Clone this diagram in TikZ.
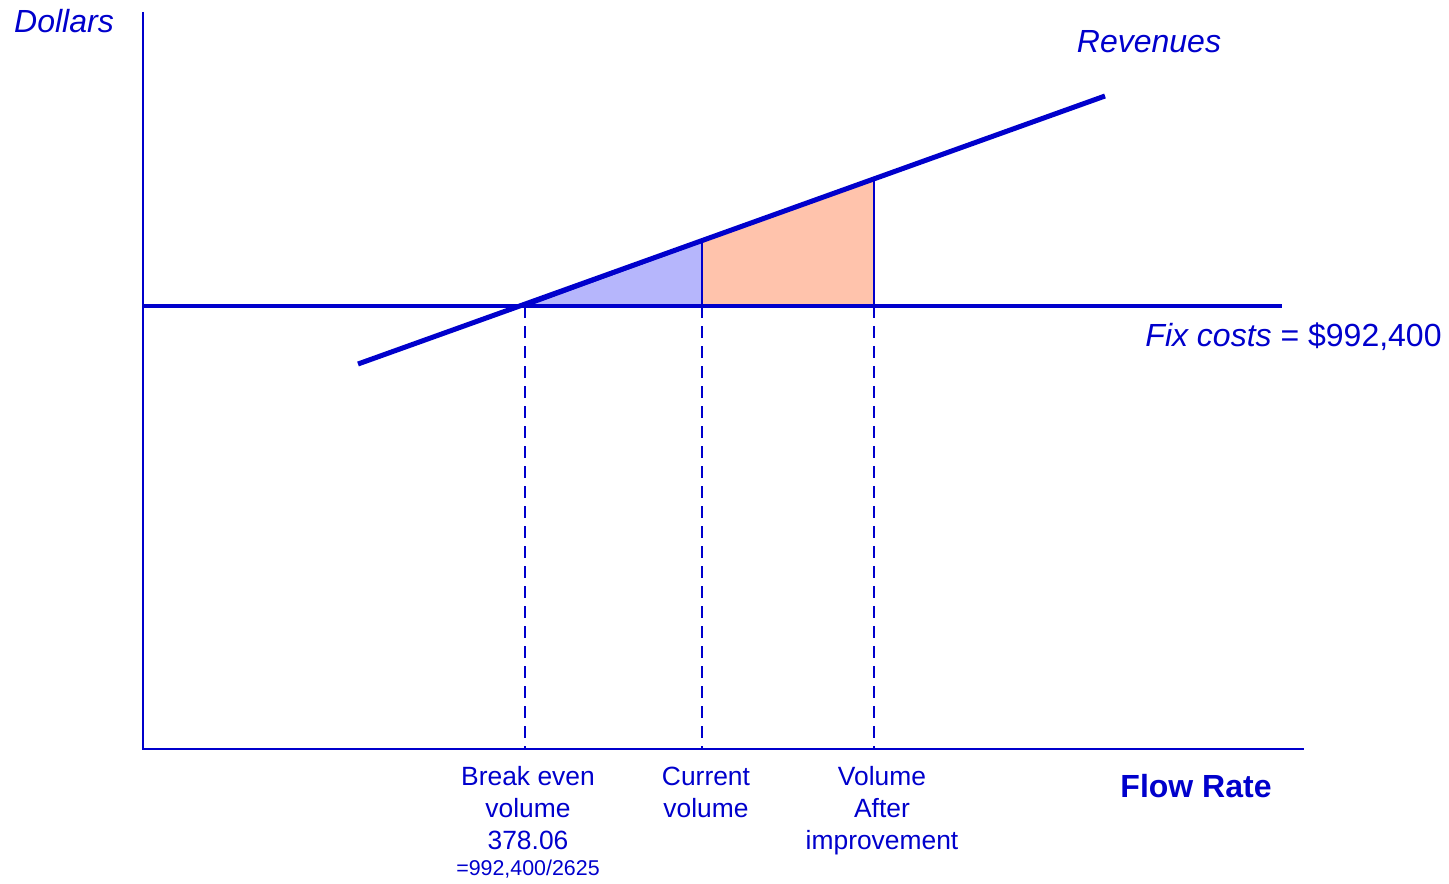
\documentclass[tikz,border=0pt]{standalone}
\usepackage{fontspec}
\setmainfont{Liberation Sans}
\definecolor{ink}{HTML}{0000CC}
\definecolor{lossfill}{HTML}{B6B6FC}
\definecolor{gainfill}{HTML}{FFC3AC}
\begin{document}
\begin{tikzpicture}[x=0.5pt,y=-0.5pt,
  axisline/.style={ink,line width=1.2pt},
  costline/.style={ink,line width=1.6pt},
  revline/.style={ink,line width=2.5pt},
  guide/.style={ink,line width=0.9pt,dash pattern=on 6pt off 4pt},
  edge/.style={ink,line width=0.9pt},
  lbl/.style={text=ink,font=\fontsize{13.2}{16}\selectfont,align=center,inner sep=0pt},
  big/.style={text=ink,font=\fontsize{16}{19}\selectfont,inner sep=0pt}]
\useasboundingbox (0,0) rectangle (1449,883);
% reference points
\coordinate (origin) at (143,749);
\coordinate (ytop) at (143,12);
\coordinate (xend) at (1304,749);
\coordinate (fcL) at (143,306);
\coordinate (fcR) at (1282,306);
\coordinate (revA) at (358,364);
\coordinate (revB) at (1105,96);
\coordinate (be) at (525,306);
\coordinate (cvTop) at (702,241);
\coordinate (cvBase) at (702,306);
\coordinate (viTop) at (874,179);
\coordinate (viBase) at (874,306);
\coordinate (beAxis) at (525,749);
\coordinate (cvAxis) at (702,749);
\coordinate (viAxis) at (874,749);
% shaded regions
\fill[lossfill] (be) -- (cvTop) -- (cvBase) -- cycle;
\fill[gainfill] (cvBase) -- (cvTop) -- (viTop) -- (viBase) -- cycle;
% axes
\draw[axisline] (ytop) -- (origin) -- (xend);
% guides down to the volume axis
\draw[guide] (be) -- (beAxis);
\draw[guide] (cvBase) -- (cvAxis);
\draw[guide] (viBase) -- (viAxis);
\draw[edge] (cvTop) -- (cvBase);
\draw[edge] (viTop) -- (viBase);
% fixed costs and revenues
\draw[costline] (fcL) -- (fcR);
\draw[revline] (revA) -- (revB);
\draw[ink,line width=1.4pt,shift={(0,2.5)}] (be) -- (cvTop);
% labels
\node[big,font=\fontsize{16}{19}\selectfont\itshape] (dollars) at (64,21) {Dollars};
\node[big,font=\fontsize{16}{19}\selectfont\itshape] (revenues) at (1149,42) {Revenues};
\node[big,anchor=east] (fixcosts) at (1442,337) {\textit{Fix costs} = \$992,400};
\node[big,font=\fontsize{16}{19}\selectfont\bfseries] (flowrate) at (1196,786) {Flow Rate};
\node[lbl,anchor=north] (belbl) at (528,763) {\strut Break even\\volume\\378.06};
\node[lbl,font=\fontsize{10.7}{12}\selectfont] (beeq) at (528,869) {=992,400/2625};
\node[lbl,anchor=north] (cvlbl) at (706,763) {\strut Current\\volume};
\node[lbl,anchor=north] (vilbl) at (882,763) {\strut Volume\\After\\improvement};
\end{tikzpicture}
\end{document}
